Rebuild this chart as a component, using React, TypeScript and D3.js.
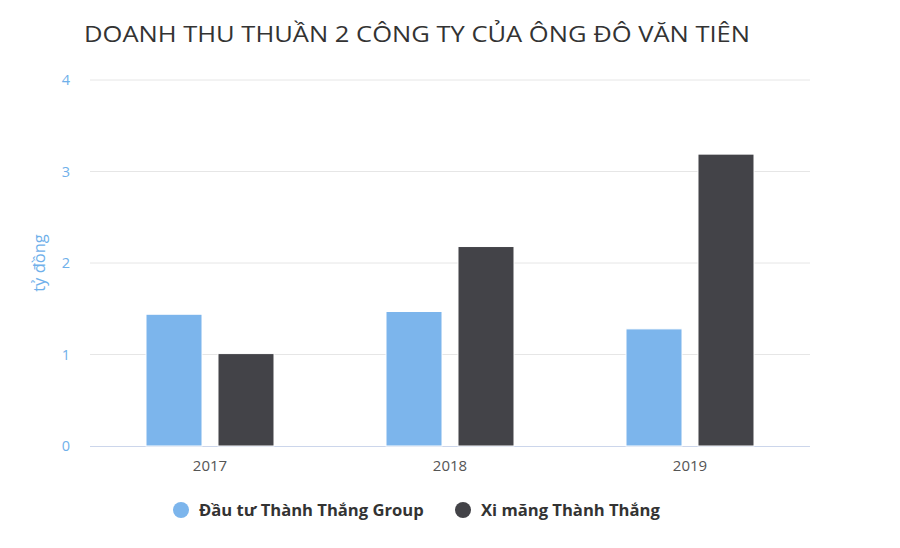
import React from "react";
import * as d3 from "d3";

const years = ["2017", "2018", "2019"];
const seriesNames = ["Đầu tư Thành Thắng Group", "Xi măng Thành Thắng"];
const thanhThangGroup = [1.44, 1.47, 1.28];
const ximangThanhThang = [1.01, 2.18, 3.19];
const yTicks = [0, 1, 2, 3, 4];
const colors = ["#7cb5ec", "#434348"];
const title = "DOANH THU THUẦN 2 CÔNG TY CỦA ÔNG ĐÔ VĂN TIÊN";
const yTitle = "tỷ đồng";

export default function App() {
  const W = 900, H = 548;
  const left = 90, right = 810, top = 80, bottom = 446;
  const x = d3.scaleBand().domain(years).range([left, right]);
  const inner = d3.scaleBand().domain(["0", "1"]).range([0, x.bandwidth()]).paddingInner(0.222).paddingOuter(0.778);
  const y = d3.scaleLinear().domain([0, 4]).range([bottom, top]);
  const series = [thanhThangGroup, ximangThanhThang];
  const font = "'Open Sans', 'Noto Sans', sans-serif";
  return (
    <svg width={W} height={H} style={{ position: "absolute", left: 0, top: 0, background: "#fff" }} fontFamily={font}>
      <rect width={W} height={H} fill="#fff" />
      <text x={84} y={42} fontSize={22.5} fill="#333" textLength={666} lengthAdjust="spacingAndGlyphs">{title}</text>
      {yTicks.map((t) => (
        <g key={t}>
          {t > 0 && <line x1={left} x2={right} y1={y(t)} y2={y(t)} stroke="#e6e6e6" strokeWidth={1} />}
          <text x={70} y={y(t) + 5} textAnchor="end" fontSize={14.5} fill="#6fb0ea">{t}</text>
        </g>
      ))}
      <line x1={left} x2={right} y1={bottom + 0.5} y2={bottom + 0.5} stroke="#ccd6eb" strokeWidth={1} />
      <text transform={`translate(45, ${(top + bottom) / 2}) rotate(-90)`} textAnchor="middle" fontSize={16.5} fill="#6fb0ea">{yTitle}</text>
      {years.map((yr, i) => (
        <g key={yr}>
          {series.map((s, j) => {
            const bx = (x(yr) as number) + (inner(String(j)) as number);
            return (
              <rect key={j} x={bx} y={y(s[i])} width={inner.bandwidth()} height={bottom - y(s[i])}
                fill={colors[j]} stroke="#fff" strokeWidth={1} />
            );
          })}
          <text x={(x(yr) as number) + x.bandwidth() / 2} y={471} textAnchor="middle" fontSize={15} fill="#555">{yr}</text>
        </g>
      ))}
      {seriesNames.map((n, j) => {
        const lx = [181, 463][j];
        return (
          <g key={n}>
            <circle cx={lx} cy={510} r={8} fill={colors[j]} />
            <text x={lx + 18} y={516} fontSize={16.6} fontWeight="bold" fill="#333">{n}</text>
          </g>
        );
      })}
    </svg>
  );
}
